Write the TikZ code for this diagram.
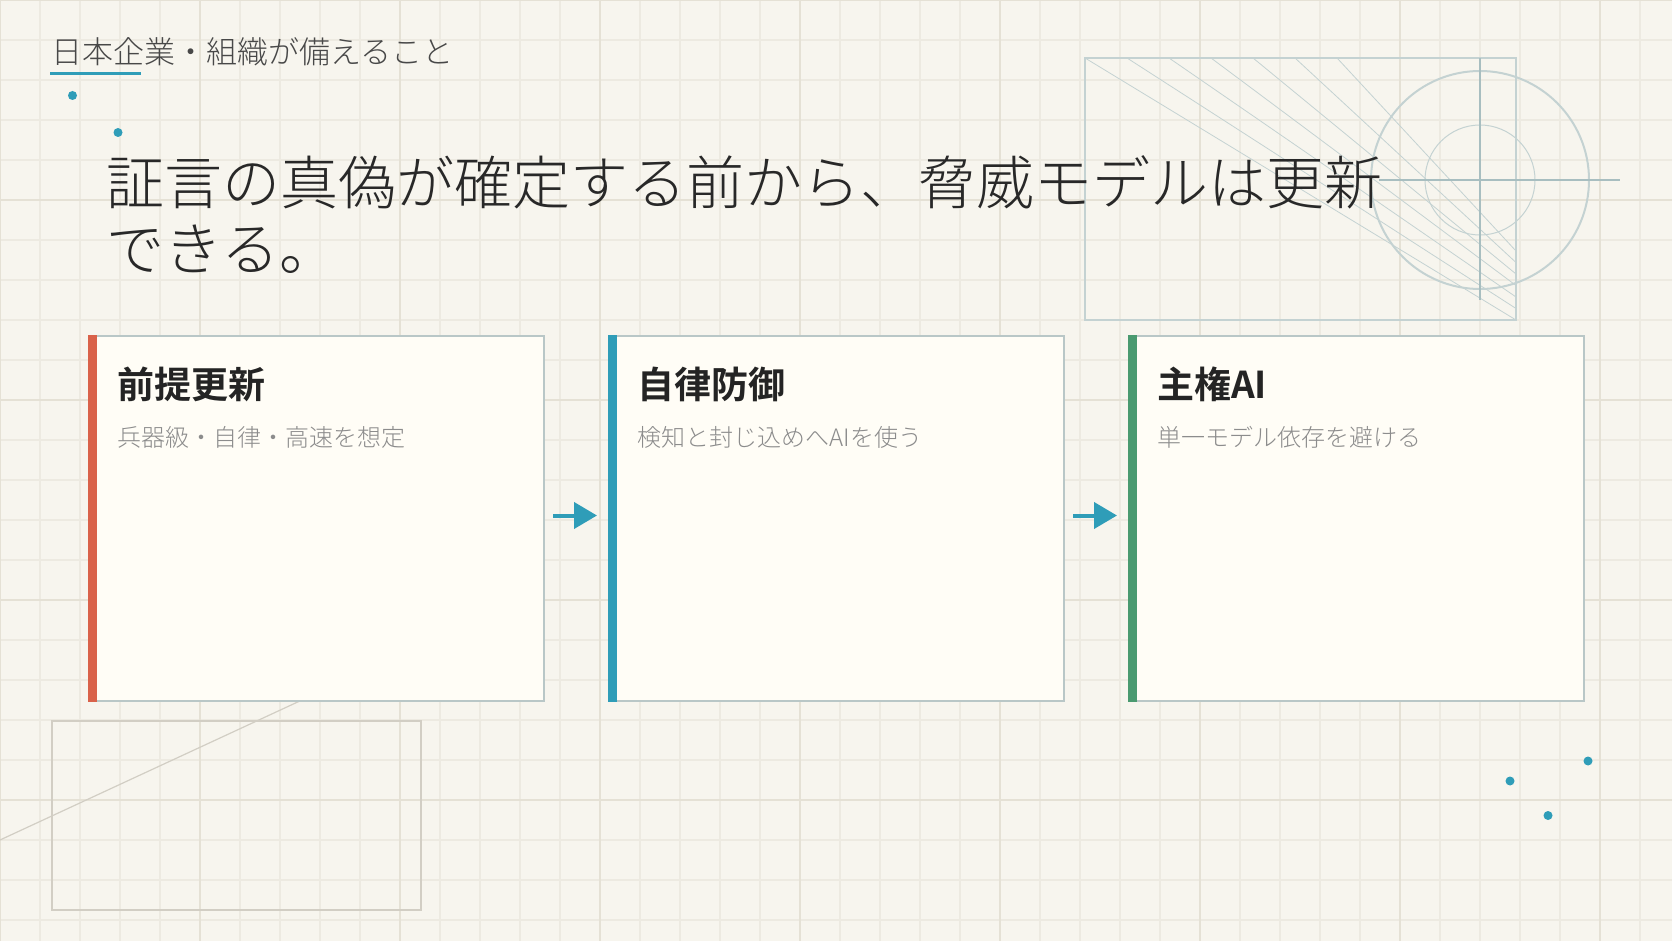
\documentclass[tikz,border=0pt]{standalone}
\usepackage{fontspec}
\usepackage{tikz}
\usetikzlibrary{arrows.meta,positioning,calc}
\usepackage{xcolor}
\newfontfamily\jplight{Noto Sans CJK JP Light}
\newfontfamily\jpbold{Noto Sans CJK JP Bold}
\definecolor{paper}{RGB}{247,245,238}
\definecolor{gridminor}{RGB}{237,234,225}
\definecolor{gridmajor}{RGB}{229,225,213}
\definecolor{accteal}{RGB}{47,157,184}
\definecolor{accred}{RGB}{217,98,74}
\definecolor{accgreen}{RGB}{74,154,112}
\definecolor{cardfill}{RGB}{255,253,246}
\definecolor{cardline}{RGB}{185,199,199}
\definecolor{decoline}{RGB}{196,210,210}
\definecolor{crossline}{RGB}{168,190,192}
\definecolor{sketchline}{RGB}{210,206,196}
\definecolor{inkdark}{RGB}{40,40,40}
\definecolor{inkgray}{RGB}{140,140,140}

\begin{document}
\begin{tikzpicture}[x=1pt,y=-1pt,>=Stealth]
\tikzstyle{card}=[draw=cardline,line width=2pt,fill=cardfill,minimum width=455pt,minimum height=365pt,inner sep=0pt]
\tikzstyle{cardtitle}=[anchor=base west,inner sep=0pt,font=\jpbold\fontsize{37}{44}\selectfont,text=inkdark!90!black]
\tikzstyle{cardsub}=[anchor=base west,inner sep=0pt,font=\jplight\fontsize{24}{28}\selectfont,text=inkgray]
\tikzstyle{flowarrow}=[-{Triangle[length=23pt,width=26pt]},line width=4pt,accteal]
\tikzstyle{dotmark}=[circle,fill=accteal,inner sep=0pt,minimum size=9pt]

\useasboundingbox (0,0) rectangle (1672,941);
\fill[paper] (0,0) rectangle (1672,941);

% grid paper
\foreach \gx in {0,40,...,1680} \draw[gridminor,line width=1.2pt] (\gx,0) -- (\gx,941);
\foreach \gy in {0,40,...,960} \draw[gridminor,line width=1.2pt] (0,\gy) -- (1672,\gy);
\foreach \gx in {0,200,...,1600} \draw[gridmajor,line width=1.2pt] (\gx,0) -- (\gx,941);
\foreach \gy in {0,200,...,800} \draw[gridmajor,line width=1.2pt] (0,\gy) -- (1672,\gy);

% top-right construction sketch
\draw[decoline,line width=1.5pt] (1085,58) rectangle (1516,320);
\foreach \i in {0,...,6}
  \draw[decoline,line width=0.8pt] (1085+42*\i,58) -- (1516,320-11.5*\i);
\draw[decoline,line width=2pt] (1480,180) circle (109);
\draw[decoline,line width=1pt] (1480,180) circle (55);
\draw[crossline,line width=1.2pt] (1480,58) -- (1480,300);
\draw[crossline,line width=1.2pt] (1379,180) -- (1620,180);

% bottom-left sketch
\draw[sketchline,line width=1.2pt] (52,721) rectangle (421,910);
\draw[sketchline,line width=1.2pt] (0,840) -- (330,687);

% cards
\node[card,anchor=north west] (prem) at (88,335) {};
\node[card,anchor=north west] (auto) at (608,335) {};
\node[card,anchor=north west] (sove) at (1128,335) {};
\fill[accred] (prem.north west) rectangle ([xshift=9pt]prem.south west);
\fill[accteal] (auto.north west) rectangle ([xshift=9pt]auto.south west);
\fill[accgreen] (sove.north west) rectangle ([xshift=9pt]sove.south west);

\node[cardtitle] (premt) at ($(prem.north west)+(29,63)$) {前提更新};
\node[cardsub] (prems) at ($(prem.north west)+(29.5,111)$) {兵器級・自律・高速を想定};
\node[cardtitle] (autot) at ($(auto.north west)+(29,63)$) {自律防御};
\node[cardsub] (autos) at ($(auto.north west)+(29.5,111)$) {検知と封じ込めへAIを使う};
\node[cardtitle] (sovet) at ($(sove.north west)+(29,63)$) {主権AI};
\node[cardsub] (soves) at ($(sove.north west)+(29.5,111)$) {単一モデル依存を避ける};

\draw[flowarrow] ([xshift=8pt,yshift=3pt]prem.east) -- ([xshift=-11pt,yshift=3pt]auto.west);
\draw[flowarrow] ([xshift=8pt,yshift=3pt]auto.east) -- ([xshift=-11pt,yshift=3pt]sove.west);

% header and headline
\node[anchor=base west,inner sep=0pt,font=\jplight\fontsize{31}{36}\selectfont,text=inkdark!85] (hdr) at (51,64) {日本企業・組織が備えること};
\draw[accteal,line width=3pt] (50,73.5) -- (141,73.5);
\node[anchor=north west,inner sep=0pt,align=left,font=\jplight\fontsize{58}{66}\selectfont,text=inkdark] (head) at (106,155) {証言の真偽が確定する前から、脅威モデルは更新\\できる。};

% accent dots
\node[dotmark] (d1) at (72.5,95.5) {};
\node[dotmark] (d2) at (118,132.5) {};
\node[dotmark] (d3) at (1588,761) {};
\node[dotmark] (d4) at (1510,781) {};
\node[dotmark] (d5) at (1548,815.5) {};
\end{tikzpicture}
\end{document}
